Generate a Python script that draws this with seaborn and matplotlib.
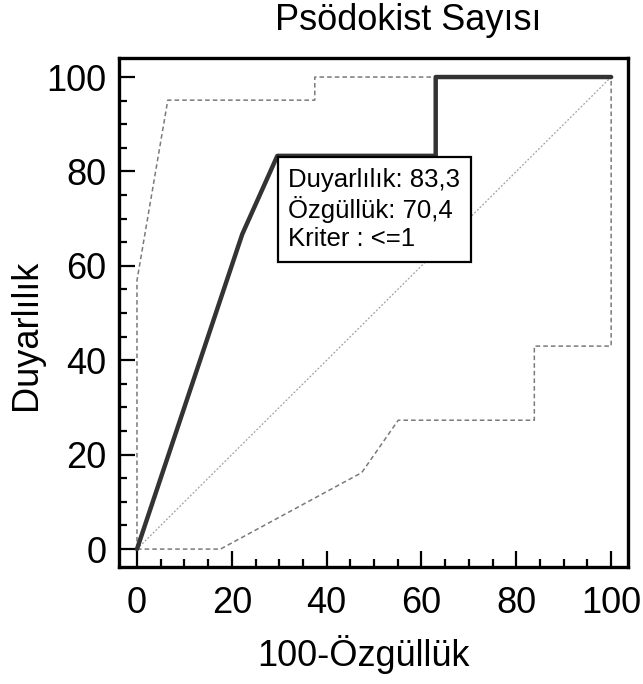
import matplotlib
matplotlib.use("Agg")
import matplotlib.pyplot as plt
import numpy as np
import pandas as pd
import seaborn as sns
from matplotlib.ticker import MultipleLocator

# ── data ──────────────────────────────────────
roc_fpr = [0, 22.2, 29.6, 63.0, 63.0, 100]
roc_sens = [0, 66.7, 83.3, 83.3, 100, 100]

upper_fpr = [0, 0, 6.5, 37.5, 37.5, 100]
upper_sens = [0, 56.9, 95.1, 95.1, 100, 100]

lower_fpr = [0, 17.6, 47.4, 55.1, 83.8, 83.8, 100, 100]
lower_sens = [0, 0, 16.2, 27.3, 27.3, 43.0, 43.0, 100]

diag = [0, 100]

cut_fpr, cut_sens = 29.6, 83.3
box_text = "Duyarlılık: 83,3\nÖzgüllük: 70,4\nKriter : <=1"

sns.set_style("white")
plt.rcParams["font.family"] = ["Liberation Sans", "DejaVu Sans"]
plt.rcParams["text.color"] = "black"
plt.rcParams["axes.labelcolor"] = "black"
plt.rcParams["xtick.color"] = "black"
plt.rcParams["ytick.color"] = "black"

fig = plt.figure(figsize=(6.43, 6.84), dpi=100)
ax = fig.add_axes([0.185, 0.171, 0.792, 0.744])


def draw(x, y, **kw):
    df = pd.DataFrame({"x": x, "y": y})
    sns.lineplot(data=df, x="x", y="y", sort=False, estimator=None, ax=ax, **kw)


draw(diag, diag, color="#a0a0a0", lw=0.9, linestyle=(0, (1.5, 1.5)))
draw(upper_fpr, upper_sens, color="#7a7a7a", lw=1.1, linestyle=(0, (3, 2)))
draw(lower_fpr, lower_sens, color="#7a7a7a", lw=1.1, linestyle=(0, (3, 2)))
draw(roc_fpr, roc_sens, color="#333333", lw=3.2)

ax.annotate(box_text, xy=(cut_fpr, cut_sens), xytext=(8, -8.5),
            textcoords="offset points", ha="left", va="top",
            fontsize=18.5, linespacing=1.2,
            bbox=dict(boxstyle="square,pad=0.42", fc="white", ec="black", lw=1.6))

ax.set_xlim(-3.8, 103.6)
ax.set_ylim(-3.8, 104)
ax.xaxis.set_major_locator(MultipleLocator(20))
ax.yaxis.set_major_locator(MultipleLocator(20))
ax.xaxis.set_minor_locator(MultipleLocator(5))
ax.yaxis.set_minor_locator(MultipleLocator(5))
ax.tick_params(which="both", direction="in", bottom=True, left=True,
               top=False, right=False, labelsize=26, width=1.6, color="black")
ax.tick_params(which="major", length=11.5)
ax.tick_params(which="minor", length=5.5)
ax.tick_params(axis="x", pad=14)
ax.tick_params(axis="y", pad=9)
for sp in ax.spines.values():
    sp.set_linewidth(2.4)
    sp.set_color("black")

ax.set_title("Psödokist Sayısı", fontsize=26, x=0.568, pad=20)
ax.set_xlabel("100-Özgüllük", fontsize=26, x=0.481, labelpad=10)
ax.set_ylabel("Duyarlılık", fontsize=26, y=0.456, labelpad=2)

fig.savefig("out.png", dpi=100)
